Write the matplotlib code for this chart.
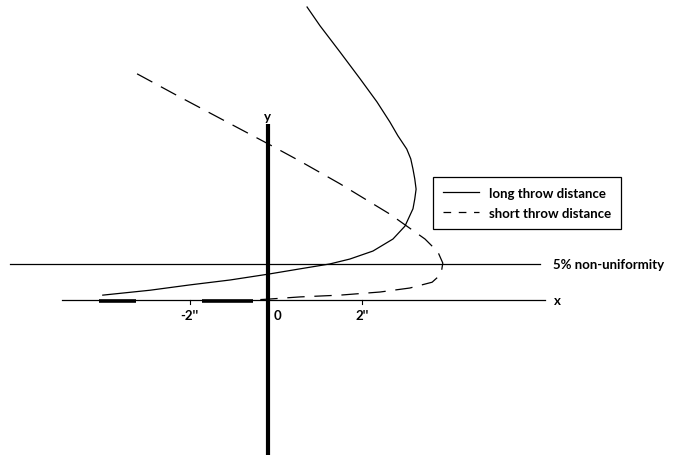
import matplotlib
matplotlib.use("Agg")
import matplotlib.pyplot as plt
from matplotlib.lines import Line2D

plt.rcParams['font.family'] = ['Lato', 'DejaVu Sans']
plt.rcParams['lines.scale_dashes'] = False

# throw curves, in inches from the nozzle centre
long_x = [0.88, 1.17, 1.62, 2.07, 2.45, 2.74, 2.92, 3.12, 3.21, 3.26, 3.30,
          3.33, 3.30, 3.26, 3.08, 2.81, 2.36, 1.84, 1.39, 0.72, 0.0, -0.85,
          -1.75, -2.65, -3.71]
long_y = [6.58, 6.16, 5.57, 4.97, 4.45, 4.00, 3.69, 3.39, 3.17, 2.94, 2.72,
          2.49, 2.27, 2.05, 1.66, 1.37, 1.10, 0.92, 0.81, 0.70, 0.58, 0.45,
          0.34, 0.22, 0.11]

short_x = [-2.94, -1.98, -0.85, 0.0, 0.72, 1.62, 2.74, 3.53, 3.82, 3.93,
           3.89, 3.69, 3.19, 2.52, 1.62, 0.72, 0.0, -0.34]
short_y = [5.08, 4.56, 3.96, 3.51, 3.12, 2.61, 1.93, 1.37, 1.08, 0.83,
           0.58, 0.40, 0.27, 0.18, 0.11, 0.07, 0.02, 0.0]

# wetted strips along the x axis
strips = [(-3.80, -2.97), (-1.48, -0.34)]

nonuniform_y = 0.81
tick_x = [-1.76, 0.22, 2.11]
tick_labels = ["-2''", "0", "2''"]

fig = plt.figure(figsize=(6.8, 4.56), dpi=100)
ax = fig.add_axes([0, 0, 1, 1])
ax.set_xlim(-6.02, 9.26)
ax.set_ylim(-3.48, 6.76)
ax.axis('off')

# axes of the sketch
ax.plot([-4.63, 6.22], [0, 0], color='black', lw=0.9)
ax.plot([0, 0], [-3.6, 3.96], color='black', lw=3.0, solid_capstyle='butt')
ax.plot([-5.8, 6.11], [nonuniform_y, nonuniform_y], color='black', lw=0.9)
for x0, x1 in strips:
    ax.plot([x0, x1], [-0.02, -0.02], color='black', lw=2.6, solid_capstyle='butt')
for tx in (tick_x[0], tick_x[2]):
    ax.plot([tx, tx], [0, -0.08], color='black', lw=0.8)

ax.plot(long_x, long_y, color='black', lw=0.9)
ax.plot(short_x, short_y, color='black', lw=0.9, dashes=(12.5, 7))

txt = dict(fontsize=9.5, fontweight='bold', color='black')
for tx, lab in zip(tick_x, tick_labels):
    ax.text(tx, -0.2, lab, ha='center', va='top', **txt)
ax.text(6.42, 0, 'x', ha='left', va='center', **txt)
ax.text(0, 4.0, 'y', ha='center', va='bottom', **txt)
ax.text(6.40, nonuniform_y, '5% non-uniformity', ha='left', va='center', **txt)

handles = [Line2D([], [], color='black', lw=0.9),
           Line2D([], [], color='black', lw=0.9, dashes=(5.5, 5.5))]
leg = ax.legend(handles, ['long throw distance', 'short throw distance'],
                loc='upper left', bbox_to_anchor=(0.637, 0.61), borderaxespad=0,
                fancybox=False, framealpha=1, edgecolor='black',
                handlelength=2.7, handletextpad=0.8, borderpad=0.75,
                labelspacing=0.6, prop={'size': 9.5, 'weight': 'bold'})
leg.get_frame().set_linewidth(0.9)

fig.savefig('out.png', dpi=100)
